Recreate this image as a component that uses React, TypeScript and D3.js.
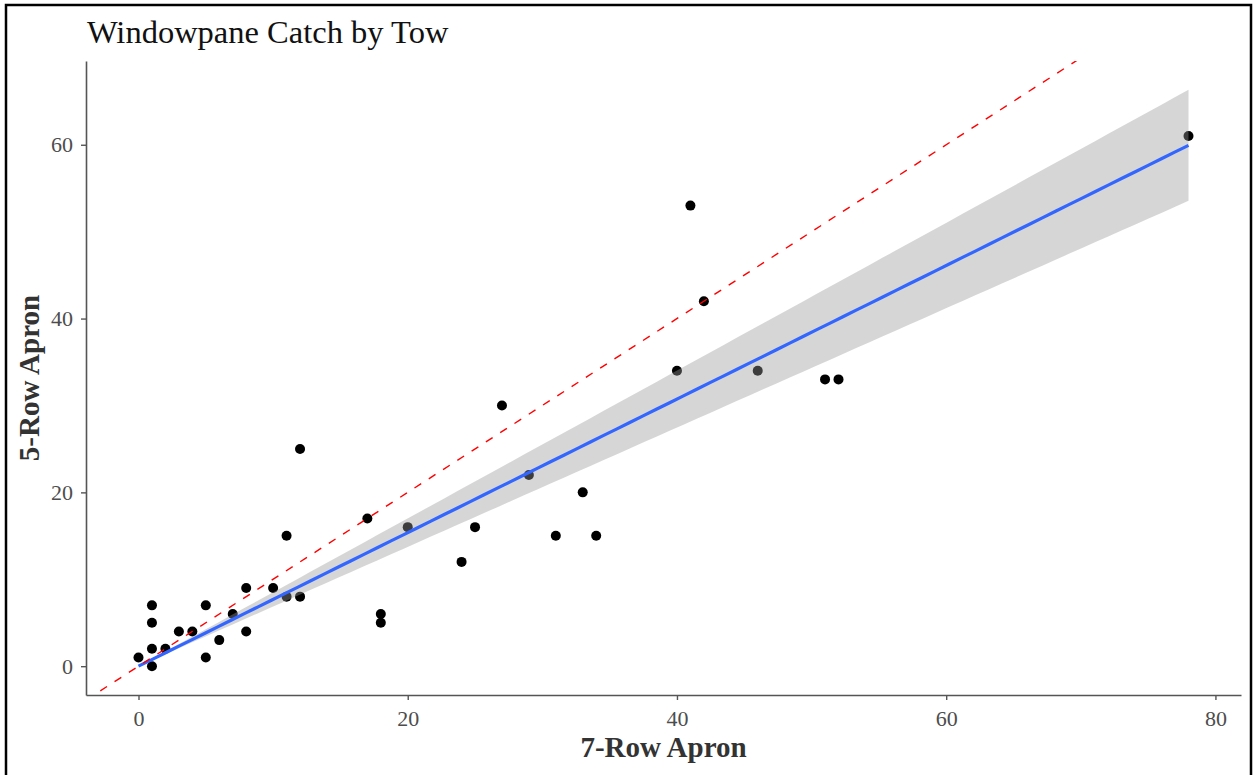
import React, { useEffect, useRef } from 'react';
import * as d3 from 'd3';

// catch per tow, one entry per tow
const sevenRow = [0, 1, 1, 1, 1, 2, 3, 4, 5, 5, 6, 7, 8, 8, 10, 11, 11, 12, 12, 17, 18, 18, 20, 24, 25, 27, 29, 31, 33, 34, 40, 41, 42, 46, 51, 52, 78];
const fiveRow = [1, 0, 2, 5, 7, 2, 4, 4, 1, 7, 3, 6, 4, 9, 9, 8, 15, 8, 25, 17, 5, 6, 16, 12, 16, 30, 22, 15, 20, 15, 34, 53, 42, 34, 33, 33, 61];
const xTicks = [0, 20, 40, 60, 80];
const yTicks = [0, 20, 40, 60];

const W = 1257;
const H = 775;
const panel = { left: 86, right: 1241, top: 61, bottom: 695 };
const FONT = '"Liberation Serif", "Times New Roman", serif';
const T_975 = 2.028; // t quantile, df = 36

const App = () => {
  const ref = useRef<SVGSVGElement | null>(null);

  useEffect(() => {
    const svg = d3.select(ref.current);
    svg.selectAll('*').remove();

    const pts = sevenRow.map((x, i) => ({ x, y: fiveRow[i] }));

    // lm(y ~ x - 1): fit through the origin, like the smooth in the chart
    const sxx = d3.sum(pts, d => d.x * d.x);
    const sxy = d3.sum(pts, d => d.x * d.y);
    const b = sxy / sxx;
    const rss = d3.sum(pts, d => (d.y - b * d.x) ** 2);
    const s = Math.sqrt(rss / (pts.length - 1));
    const se = s / Math.sqrt(sxx);

    const [xmin, xmax] = d3.extent(sevenRow) as [number, number];
    const fit = d3.range(80).map(i => {
      const x = xmin + (i * (xmax - xmin)) / 79;
      const yhat = b * x;
      const hw = T_975 * se * x;
      return { x, yhat, lo: yhat - hw, hi: yhat + hw };
    });

    const xPad = (xmax - xmin) * 0.05;
    const yLo = Math.min(d3.min(fiveRow)!, d3.min(fit, d => d.lo)!);
    const yHi = Math.max(d3.max(fiveRow)!, d3.max(fit, d => d.hi)!);
    const yPad = (yHi - yLo) * 0.05;

    const x = d3.scaleLinear().domain([xmin - xPad, xmax + xPad]).range([panel.left, panel.right]);
    const y = d3.scaleLinear().domain([yLo - yPad, yHi + yPad]).range([panel.bottom, panel.top]);

    svg.append('rect')
      .attr('width', W).attr('height', H).attr('fill', '#fff');

    svg.append('defs').append('clipPath').attr('id', 'panel-clip')
      .append('rect')
      .attr('x', panel.left).attr('y', panel.top)
      .attr('width', panel.right - panel.left).attr('height', panel.bottom - panel.top);

    const plot = svg.append('g').attr('clip-path', 'url(#panel-clip)');

    plot.append('g')
      .selectAll('circle')
      .data(pts)
      .enter().append('circle')
      .attr('cx', d => x(d.x))
      .attr('cy', d => y(d.y))
      .attr('r', 5)
      .attr('fill', '#000');

    plot.append('path')
      .datum(fit)
      .attr('d', d3.area<any>().x(d => x(d.x)).y0(d => y(d.lo)).y1(d => y(d.hi)))
      .attr('fill', '#999999')
      .attr('fill-opacity', 0.4);

    plot.append('path')
      .datum(fit)
      .attr('d', d3.line<any>().x(d => x(d.x)).y(d => y(d.yhat)))
      .attr('fill', 'none')
      .attr('stroke', '#3366FF')
      .attr('stroke-width', 3.2);

    // y = x reference
    const [d0, d1] = x.domain();
    plot.append('line')
      .attr('x1', x(d0)).attr('y1', y(d0))
      .attr('x2', x(d1)).attr('y2', y(d1))
      .attr('stroke', '#ff0000')
      .attr('stroke-width', 1.4)
      .attr('stroke-dasharray', '8,9');

    // axes
    const xAxis = svg.append('g')
      .attr('transform', `translate(0,${panel.bottom})`)
      .call(d3.axisBottom(x).tickValues(xTicks).tickSize(5).tickSizeOuter(0).tickPadding(10));
    const yAxis = svg.append('g')
      .attr('transform', `translate(${panel.left},0)`)
      .call(d3.axisLeft(y).tickValues(yTicks).tickSize(5).tickSizeOuter(0).tickPadding(8));

    [xAxis, yAxis].forEach(ax => {
      ax.select('.domain').attr('stroke', '#555').attr('stroke-width', 1.6);
      ax.selectAll('.tick line').attr('stroke', '#555').attr('stroke-width', 1.4);
      ax.selectAll('.tick text')
        .attr('fill', '#4d4d4d')
        .style('font-family', FONT)
        .style('font-size', '22px');
    });

    svg.append('text')
      .attr('x', 87).attr('y', 43)
      .style('font-family', FONT)
      .style('font-size', '32.5px')
      .attr('fill', '#111')
      .text('Windowpane Catch by Tow');

    svg.append('text')
      .attr('x', (panel.left + panel.right) / 2).attr('y', 757)
      .attr('text-anchor', 'middle')
      .style('font-family', FONT)
      .style('font-size', '29px')
      .style('font-weight', 'bold')
      .attr('fill', '#333')
      .text('7-Row Apron');

    svg.append('text')
      .attr('transform', `translate(39,${(panel.top + panel.bottom) / 2}) rotate(-90)`)
      .attr('text-anchor', 'middle')
      .style('font-family', FONT)
      .style('font-size', '29px')
      .style('font-weight', 'bold')
      .attr('fill', '#333')
      .text('5-Row Apron');

    // frame round the screenshot (bottom edge is cut off)
    svg.append('rect')
      .attr('x', 6).attr('y', 5)
      .attr('width', 1245).attr('height', H + 20)
      .attr('fill', 'none')
      .attr('stroke', '#000')
      .attr('stroke-width', 2.5);
  }, []);

  return (
    <div style={{ position: 'fixed', left: 0, top: 0, width: W, height: H, background: '#fff' }}>
      <svg ref={ref} width={W} height={H} style={{ display: 'block' }} />
    </div>
  );
};

export default App;
